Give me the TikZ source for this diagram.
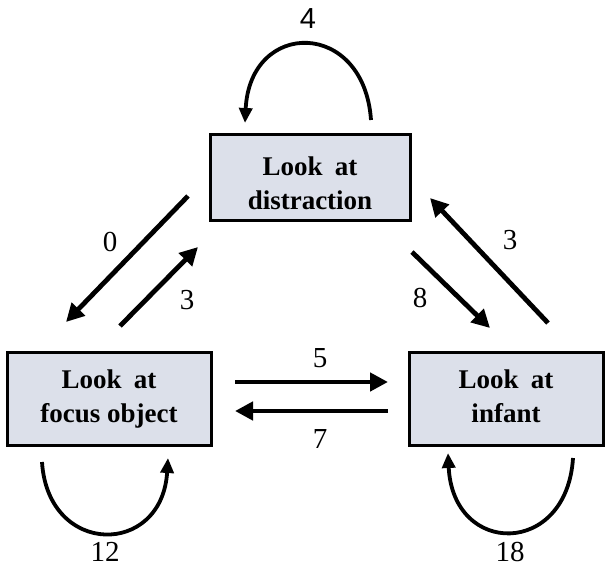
\documentclass[tikz,border=0pt]{standalone}
\usepackage{fontspec}
\setmainfont{Liberation Serif}
\newfontfamily\labsans{Liberation Sans}
\usetikzlibrary{arrows.meta}
\definecolor{boxfill}{RGB}{220,224,234}
\newcommand{\boxlines}[2][0pt]{\raisebox{#1}[\height][\depth]{\begin{tabular}{@{}c@{}}#2\end{tabular}}}
\tikzset{
  statebox/.style={draw=black, line width=3pt, fill=boxfill, inner sep=0pt,
    align=center, font=\bfseries\fontsize{27}{34}\selectfont},
  trans/.style={line width=4.8pt, -{Triangle[length=18pt,width=18pt]}},
  selfloop/.style={line width=3.8pt, -{Triangle[length=15pt,width=13pt]}},
  numlab/.style={inner sep=0pt, font=\fontsize{29}{29}\selectfont},
}
\renewcommand{\arraystretch}{1}
\begin{document}
\begin{tikzpicture}[x=1pt,y=-1pt]
\useasboundingbox (0,0) rectangle (605,567);
% states
\node[statebox, minimum width=200pt, minimum height=85pt] (D) at (310,177.5) {\boxlines[-8pt]{Look\hspace{0.45em}at\\distraction}};
\node[statebox, minimum width=204pt, minimum height=93pt] (F) at (109,398.5) {\boxlines{Look\hspace{0.45em}at\\focus object}};
\node[statebox, minimum width=194pt, minimum height=93pt] (I) at (506,398.5) {\boxlines{Look\hspace{0.45em}at\\infant}};
% arrow end points
\coordinate (dfs) at (188,196); \coordinate (dfe) at (66,322);
\coordinate (fds) at (120,326); \coordinate (fde) at (198,247);
\coordinate (dis) at (412,252); \coordinate (die) at (490,328);
\coordinate (ids) at (548,323); \coordinate (ide) at (430,198);
\coordinate (fis) at (235,382); \coordinate (fie) at (388,382);
\coordinate (ifs) at (388,411); \coordinate (ife) at (235,411);
\coordinate (dls) at (371,120); \coordinate (dle) at (245,123);
\coordinate (fls) at (42,462);  \coordinate (fle) at (168,458);
\coordinate (ils) at (573,458); \coordinate (ile) at (448,453);
% transitions
\draw[trans] (dfs) -- (dfe);
\draw[trans] (fds) -- (fde);
\draw[trans] (dis) -- (die);
\draw[trans] (ids) -- (ide);
\draw[trans] (fis) -- (fie);
\draw[trans] (ifs) -- (ife);
% self loops
\draw[selfloop] (dls) .. controls (364,19) and (250,19) .. (dle);
\draw[selfloop] (fls) .. controls (48,557) and (162,557) .. (fle);
\draw[selfloop] (ils) .. controls (567,557) and (453,557) .. (ile);
% labels
\node[numlab, font=\labsans\fontsize{29}{29}\selectfont] (n4) at (308,18.5) {4};
\node[numlab] (n0) at (110,242) {0};
\node[numlab] (n3a) at (187,300) {3};
\node[numlab] (n3b) at (510,240) {3};
\node[numlab] (n8) at (420,298) {8};
\node[numlab] (n5) at (320,358) {5};
\node[numlab] (n7) at (320,439) {7};
\node[numlab] (n12) at (105,552) {12};
\node[numlab] (n18) at (510,552) {18};
\end{tikzpicture}
\end{document}
